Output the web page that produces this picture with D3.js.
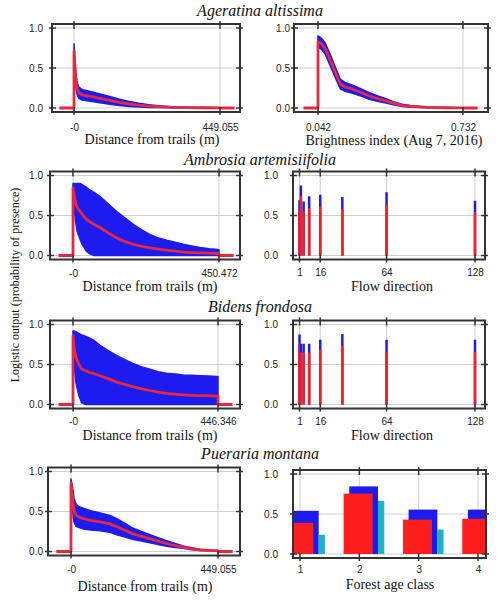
<!DOCTYPE html>
<html><head><meta charset="utf-8">
<script src="https://cdn.jsdelivr.net/npm/d3@7"></script>
<style>body{margin:0;background:#fff}</style>
</head><body><svg id="c" width="504" height="601"></svg>
<script>
// ---------------- DATA ----------------
const speciesNames = ["Ageratina altissima", "Ambrosia artemisiifolia", "Bidens frondosa", "Pueraria montana"];
const yAxisTitle = "Logistic output (probability of presence)";
const yTickValues = [0, 0.5, 1.0];

// Ageratina altissima – distance from trails
const ageDistX    = [0, 3, 6, 10, 15, 25, 50, 80, 110, 140, 170, 200, 230, 260, 300, 350, 400, 449.055];
const ageDistMean = [0.71, 0.50, 0.33, 0.24, 0.19, 0.165, 0.145, 0.12, 0.095, 0.07, 0.05, 0.035, 0.024, 0.016, 0.009, 0.005, 0.003, 0.002];
const ageDistSD   = [0.09, 0.09, 0.08, 0.075, 0.07, 0.065, 0.06, 0.055, 0.048, 0.04, 0.032, 0.024, 0.017, 0.011, 0.006, 0.003, 0.002, 0.001];
const ageDistTicks = [0, 449.055];
const ageDistTickLabels = ["-0", "449.055"];

// Ageratina altissima – brightness index
const ageBrightX    = [0.042, 0.06, 0.077, 0.10, 0.125, 0.148, 0.17, 0.207, 0.25, 0.286, 0.33, 0.365, 0.40, 0.442, 0.48, 0.521, 0.56, 0.60, 0.65, 0.70, 0.732];
const ageBrightMean = [0.83, 0.80, 0.74, 0.60, 0.44, 0.30, 0.265, 0.235, 0.19, 0.15, 0.115, 0.088, 0.06, 0.034, 0.022, 0.015, 0.008, 0.005, 0.003, 0.002, 0.002];
const ageBrightSD   = [0.07, 0.07, 0.07, 0.07, 0.065, 0.06, 0.055, 0.05, 0.045, 0.04, 0.033, 0.027, 0.02, 0.014, 0.01, 0.007, 0.004, 0.003, 0.002, 0.001, 0.001];
const ageBrightTicks = [0.042, 0.732];
const ageBrightTickLabels = ["0.042", "0.732"];

// Ambrosia artemisiifolia – distance from trails
const ambDistX    = [0, 4, 8, 13, 22, 27, 42, 52, 65, 83, 110, 135, 160, 186, 212, 238, 264, 289, 315, 340, 366, 392, 420, 447, 450.472];
const ambDistMean = [0.845, 0.75, 0.66, 0.60, 0.55, 0.52, 0.45, 0.42, 0.39, 0.35, 0.28, 0.22, 0.175, 0.14, 0.115, 0.095, 0.08, 0.067, 0.054, 0.042, 0.037, 0.033, 0.029, 0.025, 0.025];
const ambDistSD   = [0.055, 0.15, 0.24, 0.30, 0.35, 0.37, 0.40, 0.40, 0.40, 0.39, 0.36, 0.33, 0.295, 0.25, 0.205, 0.165, 0.14, 0.123, 0.111, 0.098, 0.083, 0.067, 0.056, 0.05, 0.045];
const ambDistTicks = [0, 450.472];
const ambDistTickLabels = ["-0", "450.472"];

// Flow direction (categorical)
const flowValues = [1, 2, 4, 8, 16, 32, 64, 128];
const flowTicks = [1, 16, 64, 128];
const flowTickLabels = ["1", "16", "64", "128"];
const ambFlowMean = [0.55, 0.74, 0.55, 0.59, 0.61, 0.58, 0.63, 0.545];
const ambFlowSD   = [0.14, 0.135, 0.125, 0.15, 0.15, 0.15, 0.16, 0.14];

// Bidens frondosa – distance from trails
const bidDistX    = [0, 3, 9, 18, 27, 40, 52, 65, 83, 110, 135, 160, 186, 212, 237, 262, 288, 314, 340, 365, 391, 416, 442, 446.346];
const bidDistMean = [0.86, 0.72, 0.59, 0.50, 0.445, 0.42, 0.40, 0.385, 0.36, 0.32, 0.28, 0.25, 0.22, 0.195, 0.175, 0.155, 0.14, 0.13, 0.12, 0.115, 0.11, 0.11, 0.105, 0.105];
const bidDistSD   = [0.06, 0.20, 0.32, 0.39, 0.425, 0.43, 0.43, 0.415, 0.38, 0.35, 0.33, 0.31, 0.29, 0.275, 0.265, 0.255, 0.25, 0.25, 0.25, 0.25, 0.25, 0.245, 0.245, 0.245];
const bidDistTicks = [0, 446.346];
const bidDistTickLabels = ["-0", "446.346"];
const bidFlowMean = [0.76, 0.65, 0.65, 0.65, 0.685, 0.73, 0.65, 0.66];
const bidFlowSD   = [0.115, 0.11, 0.11, 0.11, 0.125, 0.15, 0.16, 0.15];

// Pueraria montana – distance from trails
const puDistX    = [0, 3, 6, 9, 15, 25, 38, 60, 89, 119, 140, 165, 190, 215, 241, 266, 292, 318, 343, 368, 394, 420, 445, 449.055];
const puDistMean = [0.855, 0.74, 0.62, 0.52, 0.455, 0.43, 0.41, 0.39, 0.37, 0.345, 0.31, 0.265, 0.22, 0.19, 0.16, 0.13, 0.10, 0.075, 0.055, 0.035, 0.02, 0.013, 0.01, 0.008];
const puDistSD   = [0.05, 0.10, 0.15, 0.15, 0.14, 0.13, 0.13, 0.12, 0.11, 0.105, 0.10, 0.085, 0.07, 0.06, 0.05, 0.042, 0.035, 0.025, 0.015, 0.012, 0.008, 0.005, 0.003, 0.003];
const puDistTicks = [0, 449.055];
const puDistTickLabels = ["-0", "449.055"];

// Pueraria montana – forest age class (categorical)
const forestClasses = [1, 2, 3, 4];
const forestTickLabels = ["1", "2", "3", "4"];
const puForestMean = [0.39, 0.755, 0.43, 0.44];
const puForestSD   = [0.15, 0.09, 0.125, 0.115];

// ---------------- DRAWING ----------------
const BLUE = "#1c1cf0", RED = "#e8283f", BAR_RED = "#ff1e1e", CYAN = "#1ab4c2";
const serif = "'Liberation Serif','Times New Roman',serif";
const sans = "'Liberation Sans',Arial,sans-serif";
const svg = d3.select("#c");
let clipId = 0;

function panel(c) {
  const g = svg.append("g");
  const x = d3.scaleLinear().domain(c.xDomain).range(c.xRange);
  const y = d3.scaleLinear().domain([-0.05, 1.05]).range([c.fy + c.fh, c.fy]);
  const id = "clip" + (clipId++);
  svg.append("clipPath").attr("id", id).append("rect")
    .attr("x", c.fx0).attr("y", c.fy).attr("width", c.fx1 - c.fx0).attr("height", c.fh);

  // grid
  const grid = g.append("g").attr("stroke", "#cfcfcf").attr("stroke-width", 1);
  yTickValues.forEach(v => grid.append("line").attr("x1", c.fx0).attr("x2", c.fx1).attr("y1", y(v)).attr("y2", y(v)));
  c.ticks.forEach(v => grid.append("line").attr("x1", x(v)).attr("x2", x(v)).attr("y1", c.fy).attr("y2", c.fy + c.fh));

  const content = g.append("g").attr("clip-path", `url(#${id})`);
  c.draw(content, x, y);

  // frame
  g.append("rect").attr("x", c.fx0).attr("y", c.fy).attr("width", c.fx1 - c.fx0).attr("height", c.fh)
    .attr("fill", "none").attr("stroke", "#333").attr("stroke-width", 2);
  const tk = g.append("g").attr("stroke", "#333").attr("stroke-width", 1.5);
  yTickValues.forEach(v => {
    tk.append("line").attr("x1", c.fx0 - 3).attr("x2", c.fx0 + 4).attr("y1", y(v)).attr("y2", y(v));
    tk.append("line").attr("x1", c.fx1 - 4).attr("x2", c.fx1 + 3).attr("y1", y(v)).attr("y2", y(v));
  });
  c.ticks.forEach(v => {
    tk.append("line").attr("x1", x(v)).attr("x2", x(v)).attr("y1", c.fy - 3).attr("y2", c.fy + 5);
    tk.append("line").attr("x1", x(v)).attr("x2", x(v)).attr("y1", c.fy + c.fh - 5).attr("y2", c.fy + c.fh + 3);
  });

  // x axis labels
  const xa = g.append("g").attr("transform", `translate(0,${c.tickBase})`)
    .call(d3.axisBottom(x).tickValues(c.ticks).tickFormat((d, i) => c.tickLabels[i]).tickSize(0).tickPadding(0));
  xa.select(".domain").remove();
  xa.selectAll("text").attr("y", 0).attr("dy", 0).attr("font-family", sans).attr("font-size", 10).attr("fill", "#222");

  // y axis labels
  const ya = g.append("g").attr("transform", `translate(${c.yLabX},0)`)
    .call(d3.axisLeft(y).tickValues(yTickValues).tickFormat(d3.format(".1f")).tickSize(0).tickPadding(0));
  ya.select(".domain").remove();
  ya.selectAll("text").attr("font-family", sans).attr("font-size", 10).attr("fill", "#222");

  g.append("text").attr("x", c.titleX).attr("y", c.titleBase).attr("text-anchor", "middle")
    .attr("font-family", serif).attr("font-size", 14).attr("fill", "#111").text(c.xTitle);
}

function curve(xs, mean, sd) {
  return (g, x, y) => {
    const n = xs.length, ext = 0.1 * (xs[n - 1] - xs[0]);
    const band = xs.map((v, i) => ({ x: v, lo: Math.max(0, mean[i] - sd[i]), hi: mean[i] + sd[i] }));
    g.append("path").datum(band)
      .attr("d", d3.area().x(d => x(d.x)).y0(d => y(d.lo)).y1(d => y(d.hi)))
      .attr("fill", BLUE).attr("stroke", BLUE).attr("stroke-width", 1.5).attr("stroke-linejoin", "round");
    const pts = [{ x: xs[0] - ext, m: 0 }, { x: xs[0], m: 0 }]
      .concat(xs.map((v, i) => ({ x: v, m: mean[i] })))
      .concat([{ x: xs[n - 1], m: 0 }, { x: xs[n - 1] + ext, m: 0 }]);
    g.append("path").datum(pts)
      .attr("d", d3.line().x(d => x(d.x)).y(d => y(d.m)))
      .attr("fill", "none").attr("stroke", RED).attr("stroke-width", 2.8).attr("stroke-linejoin", "round");
  };
}

function spikes(vals, mean, sd) {
  return (g, x, y) => {
    vals.forEach((v, i) => {
      g.append("line").attr("x1", x(v)).attr("x2", x(v)).attr("y1", y(0)).attr("y2", y(mean[i] + sd[i]))
        .attr("stroke", BLUE).attr("stroke-width", 2.5);
      g.append("line").attr("x1", x(v)).attr("x2", x(v)).attr("y1", y(0)).attr("y2", y(mean[i]))
        .attr("stroke", BAR_RED).attr("stroke-width", 2.5);
    });
  };
}

function bars(vals, mean, sd) {
  return (g, x, y) => {
    vals.forEach((v, i) => {
      g.append("rect").attr("x", x(v - 0.17)).attr("width", x(v + 0.315) - x(v - 0.17))
        .attr("y", y(mean[i] + sd[i])).attr("height", y(0) - y(mean[i] + sd[i])).attr("fill", BLUE);
      g.append("rect").attr("x", x(v + 0.315)).attr("width", x(v + 0.42) - x(v + 0.315))
        .attr("y", y(mean[i] - sd[i])).attr("height", y(0) - y(mean[i] - sd[i])).attr("fill", CYAN);
      g.append("rect").attr("x", x(v - 0.265)).attr("width", x(v + 0.224) - x(v - 0.265))
        .attr("y", y(mean[i])).attr("height", y(0) - y(mean[i])).attr("fill", BAR_RED);
    });
  };
}

const L = { fx0: 51, fx1: 240, titleX: 150, yLabX: 43 };
const R = { fx0: 293, fx1: 486, titleX: 392, yLabX: 278 };

// Row 1
panel({ ...L, fx0: 52, fy: 24, fh: 88, xDomain: [0, 449.055], xRange: [74, 220], ticks: ageDistTicks, tickLabels: ageDistTickLabels,
  tickBase: 131, titleBase: 144, titleX: 152, xTitle: "Distance from trails (m)", draw: curve(ageDistX, ageDistMean, ageDistSD) });
panel({ ...R, fx0: 294, fx1: 488, yLabX: 290, fy: 24, fh: 88, xDomain: [0.042, 0.732], xRange: [318, 463], ticks: ageBrightTicks, tickLabels: ageBrightTickLabels,
  tickBase: 131, titleBase: 144.5, titleX: 394, xTitle: "Brightness index (Aug 7, 2016)", draw: curve(ageBrightX, ageBrightMean, ageBrightSD) });
// Row 2
panel({ ...L, fx0: 50, fy: 171.5, fh: 88, xDomain: [0, 450.472], xRange: [73, 219], ticks: ambDistTicks, tickLabels: ambDistTickLabels,
  tickBase: 276.5, titleBase: 291, xTitle: "Distance from trails (m)", draw: curve(ambDistX, ambDistMean, ambDistSD) });
panel({ ...R, fx1: 485, fy: 171.5, fh: 88, xDomain: [1, 128], xRange: [299.5, 475], ticks: flowTicks, tickLabels: flowTickLabels,
  tickBase: 276, titleBase: 291, xTitle: "Flow direction", draw: spikes(flowValues, ambFlowMean, ambFlowSD) });
// Row 3
panel({ ...L, fx0: 50, fy: 320.5, fh: 88, xDomain: [0, 446.346], xRange: [73, 218], ticks: bidDistTicks, tickLabels: bidDistTickLabels,
  tickBase: 425, titleBase: 440, xTitle: "Distance from trails (m)", draw: curve(bidDistX, bidDistMean, bidDistSD) });
panel({ ...R, fx1: 485, fy: 320.5, fh: 88, xDomain: [1, 128], xRange: [299.5, 475], ticks: flowTicks, tickLabels: flowTickLabels,
  tickBase: 425, titleBase: 440, xTitle: "Flow direction", draw: spikes(flowValues, bidFlowMean, bidFlowSD) });
// Row 4
panel({ ...L, fx0: 48, fy: 467.5, fh: 88, xDomain: [0, 449.055], xRange: [71, 218], ticks: puDistTicks, tickLabels: puDistTickLabels,
  tickBase: 573, titleBase: 590.5, titleX: 145, xTitle: "Distance from trails (m)", draw: curve(puDistX, puDistMean, puDistSD) });
panel({ ...R, fy: 470, fh: 88, xDomain: [1, 4], xRange: [300, 478], ticks: forestClasses, tickLabels: forestTickLabels,
  tickBase: 573, titleBase: 589, titleX: 390, xTitle: "Forest age class", draw: bars(forestClasses, puForestMean, puForestSD) });

// Species titles
const titleBases = [16, 165, 311.5, 459];
speciesNames.forEach((s, i) => svg.append("text").attr("x", 260).attr("y", titleBases[i]).attr("text-anchor", "middle")
  .attr("font-family", serif).attr("font-style", "italic").attr("font-size", 16).attr("fill", "#111").text(s));

// Y-axis title
svg.append("text").attr("transform", "translate(19,285) rotate(-90)").attr("text-anchor", "middle")
  .attr("font-family", serif).attr("font-size", 12).attr("fill", "#111").text(yAxisTitle);
</script></body></html>
